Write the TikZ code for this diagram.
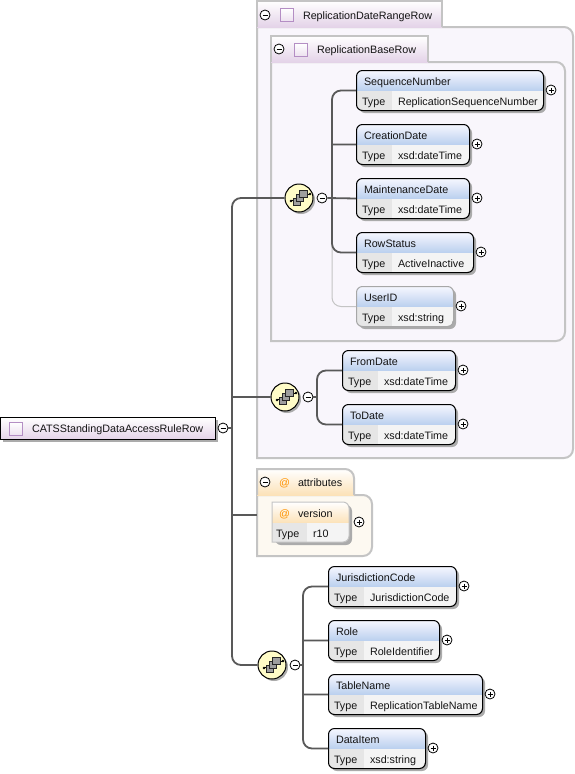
\documentclass[tikz,border=0pt]{standalone}
\usepackage{fontspec}
\setmainfont{Liberation Sans}
\definecolor{conn}{HTML}{595959}
\definecolor{grp}{HTML}{C4C4C4}
\definecolor{shad}{HTML}{ABABAB}
\definecolor{purpF}{HTML}{F9F6FC}
\definecolor{purpT}{HTML}{E4D3E8}
\definecolor{sqB}{HTML}{B48EC4}
\definecolor{creamF}{HTML}{FDF9F1}
\definecolor{orT}{HTML}{FCE2B8}
\definecolor{blueT}{HTML}{B9CFEE}
\definecolor{rowL}{HTML}{E6E6E6}
\definecolor{rowR}{HTML}{F4F4F4}
\tikzset{
  x=1pt,y=-1pt,
  txt/.style={inner sep=0pt,outer sep=0pt,anchor=base west,font=\fontsize{10.75}{12}\selectfont,text=black!92},
  conline/.style={draw=conn,line width=1.8pt,rounded corners=9pt},
  branch/.style={draw=conn,line width=1.8pt},
  optline/.style={draw=grp,line width=1pt,rounded corners=9pt},
  toggle/.style={circle,draw=black,fill=white,line width=.8pt,minimum size=10pt,inner sep=0pt},
  elembox/.style={draw=black,line width=1pt,rounded corners=6pt,inner sep=0pt,anchor=north west,minimum height=40pt},
  optbox/.style={draw=grp!85!black,line width=1pt,rounded corners=6pt,inner sep=0pt,anchor=north west,minimum height=40pt},
  attbox/.style={inner sep=0pt,anchor=north west,minimum height=40pt},
  compo/.style={circle,draw=black,line width=1pt,fill=yellow!22,minimum size=28pt,inner sep=0pt},
  sq/.style={draw=black!85,fill=black!38,line width=.7pt},
}
\newcommand{\minustog}[3]{\node[toggle] (#1) at (#2,#3) {};
  \draw[line width=.8pt] (#2-2.5,#3) -- (#2+2.5,#3);}
\newcommand{\plustog}[3]{\node[toggle] (#1) at (#2,#3) {};
  \draw[line width=.8pt] (#2-2.5,#3) -- (#2+2.5,#3) (#2,#3-2.5) -- (#2,#3+2.5);}
% element: style, name, x1, y1, x2, title, type
\newcommand{\elem}[7]{%
  \pgfmathsetmacro{\wid}{#5-#3}
  \fill[shad,rounded corners=6pt] (#3+3,#4+3) rectangle (#5+3,#4+43);
  \begin{scope}
    \clip[rounded corners=6pt] (#3,#4) rectangle (#5,#4+40);
    \shade[top color=blue!3,bottom color=blueT] (#3,#4) rectangle (#5,#4+21);
    \fill[rowL] (#3,#4+21) rectangle (#3+36,#4+40);
    \fill[rowR] (#3+36,#4+21) rectangle (#5,#4+40);
  \end{scope}
  \node[#1,minimum width=\wid pt] (#2) at (#3,#4) {};
  \node[txt] (#2-title) at (#3+8,#4+15) {#6};
  \node[txt] (#2-tl) at (#3+6,#4+35) {Type};
  \node[txt] (#2-tv) at (#3+42,#4+35) {#7};
  \plustog{#2-plus}{#5+8}{#4+20}
}
\newcommand{\compo}[3]{%
  \fill[shad] (#2+2,#3+2) circle (14);
  \node[compo] (#1) at (#2,#3) {};
  \draw[black,line width=.8pt] (#2-8,#3+3) -- (#2+11,#3-4);
  \fill (#2-8,#3+3) circle (1.4) (#2+11,#3-4) circle (1.4);
  \draw[sq] (#2-6,#3) rectangle (#2+1,#3+7);
  \draw[sq] (#2-3,#3-4) rectangle (#2+4,#3+3);
  \draw[sq] (#2,#3-8) rectangle (#2+8,#3-1);
}
\newcommand{\typesq}[3]{\node[draw=sqB,line width=1pt,top color=white,bottom color=purpT!70,minimum size=13pt,inner sep=0pt,anchor=north west] (#1) at (#2,#3) {};}
\begin{document}
\begin{tikzpicture}
\useasboundingbox (0,0) rectangle (575,774);
\fill[white] (0,0) rectangle (575,774);

% ---- outer group: ReplicationDateRangeRow
\path[fill=purpF,draw=grp,line width=2pt] (257,27) [sharp corners] -- (257,458) [rounded corners=9pt] -- (573,458) -- (573,27) [sharp corners] -- cycle;
\shade[top color=white,bottom color=purpT] (257,1) rectangle (442,27);
\draw[grp,line width=2pt] (257,27) |- (442,1) -- (442,27);
\node[txt] (g1) at (303,19) {ReplicationDateRangeRow};
\minustog{g1m}{265}{15}
\typesq{g1s}{280}{8}

% ---- inner group: ReplicationBaseRow
\path[fill=purpF,draw=grp,line width=2pt] (271,62) [sharp corners] -- (271,341) [rounded corners=9pt] -- (565,341) -- (565,62) [sharp corners] -- cycle;
\shade[top color=white,bottom color=purpT] (271,36) rectangle (428,62);
\draw[grp,line width=2pt] (271,62) |- (428,36) -- (428,62);
\node[txt] (g2) at (317,53) {ReplicationBaseRow};
\minustog{g2m}{279}{49}
\typesq{g2s}{294}{43}

% ---- attributes group
\path[fill=creamF,draw=grp,line width=2pt] (257,495) [sharp corners] -- (257,556) [rounded corners=9pt] -- (372,556) -- (372,495) [sharp corners] -- cycle;
\shade[top color=white,bottom color=orT] (257,469) rectangle (354,495);
\draw[grp,line width=2pt] (257,495) -- (257,469) [rounded corners=9pt] -- (354,469) [sharp corners] -- (354,495);
\node[txt] (g3) at (298,486) {attributes};
\minustog{g3m}{265}{482}
\node[txt,text=orange!85!yellow] (g3a) at (279,486) {@};
\coordinate (g3w) at (257,515);

% ---- root
\fill[shad] (3,420) rectangle (218,442);
\node[draw=black,line width=1pt,inner sep=0pt,anchor=north west,minimum width=215pt,minimum height=22pt,top color=white,bottom color=purpT] (root) at (0,417) {};
\typesq{roots}{9}{422}
\node[txt] (roott) at (32,432) {CATSStandingDataAccessRuleRow};
\minustog{rootm}{223}{428}

% ---- compositors
\compo{c1}{299}{198}
\minustog{c1m}{322}{198}
\compo{c2}{285}{397}
\minustog{c2m}{308}{397}
\compo{c3}{272}{665}
\minustog{c3m}{295}{665}

% ---- elements
\elem{elembox}{seqn}{356}{70}{543}{SequenceNumber}{ReplicationSequenceNumber}
\elem{elembox}{crea}{356}{124}{469}{CreationDate}{xsd:dateTime}
\elem{elembox}{main}{356}{178}{469}{MaintenanceDate}{xsd:dateTime}
\elem{elembox}{rows}{356}{232}{473}{RowStatus}{ActiveInactive}
\elem{optbox}{user}{356}{286}{453}{UserID}{xsd:string}
\elem{elembox}{from}{342}{350}{455}{FromDate}{xsd:dateTime}
\elem{elembox}{tod}{342}{404}{455}{ToDate}{xsd:dateTime}
\elem{elembox}{juri}{328}{566}{456}{JurisdictionCode}{JurisdictionCode}
\elem{elembox}{role}{328}{620}{439}{Role}{RoleIdentifier}
\elem{elembox}{tabl}{328}{674}{482}{TableName}{ReplicationTableName}
\elem{elembox}{data}{328}{728}{425}{DataItem}{xsd:string}

% ---- attribute: version
\fill[shad,rounded corners=6pt] (275,505) rectangle (352,545);
\begin{scope}
  \clip (272,502) [sharp corners] -- (272,542) [rounded corners=6pt] -- (349,542) -- (349,502) [sharp corners] -- cycle;
  \shade[top color=white,bottom color=orT] (272,502) rectangle (349,523);
  \fill[rowL] (272,523) rectangle (307,542);
  \fill[rowR] (307,523) rectangle (349,542);
\end{scope}
\node[attbox,minimum width=77pt] (vers) at (272,502) {};
\draw[grp,line width=1pt] (272,502) -- (272,542) [rounded corners=6pt] -- (349,542) -- (349,502) [sharp corners] -- cycle;
\node[txt,text=orange!85!yellow] (versa) at (279,517) {@};
\node[txt] (verst) at (298,517) {version};
\node[txt] (verstl) at (276,537) {Type};
\node[txt] (verstv) at (313,537) {r10};
\plustog{versp}{359}{522}

% ---- connectors
\coordinate (t0) at (232,428);
\coordinate (t1) at (332,198);
\coordinate (t2) at (317,397);
\coordinate (t3) at (303,665);
\draw[branch] (rootm.east) -- (t0);
\draw[conline] (c1.west) -| (t0) |- (c3.west);
\draw[branch] (t0 |- c2.west) -- (c2.west);
\draw[branch] (t0 |- g3w) -- (g3w);
\draw[optline] (t1) |- (user.west);
\draw[conline] (seqn.west) -| (t1) |- (rows.west) (crea.west) [sharp corners] -- ++(-24,0);
\draw[branch] (c1m.east) -- (main.west);
\draw[branch] (c2m.east) -- (t2);
\draw[conline] (from.west) -| (t2) |- (tod.west);
\draw[branch] (c3m.east) -- (t3);
\draw[conline] (juri.west) -| (t3) |- (data.west) (role.west) [sharp corners] -- ++(-25,0) (tabl.west) -- ++(-25,0);
\end{tikzpicture}
\end{document}
